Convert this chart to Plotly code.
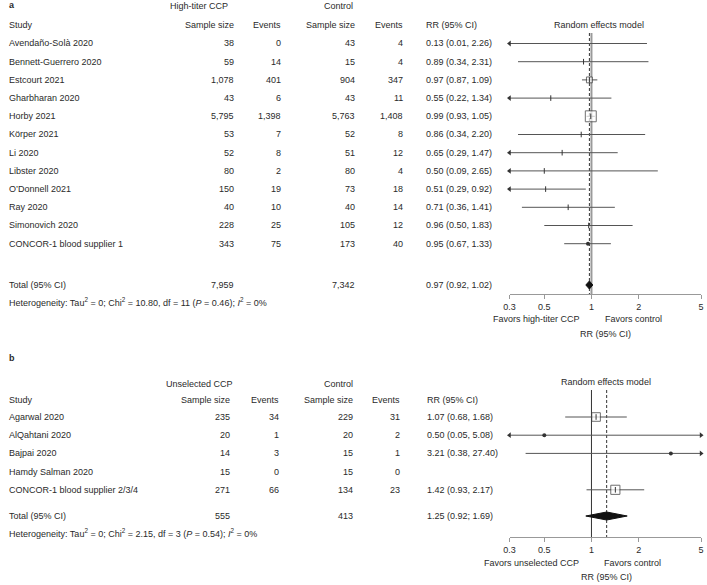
import math
import plotly.graph_objects as go

# ---------------- data: panel a ----------------
studies_a = ["Avendaño-Solà 2020", "Bennett-Guerrero 2020", "Estcourt 2021", "Gharbharan 2020",
             "Horby 2021", "Körper 2021", "Li 2020", "Libster 2020", "O’Donnell 2021",
             "Ray 2020", "Simonovich 2020", "CONCOR-1 blood supplier 1"]
trt_n_a = [38, 59, 1078, 43, 5795, 53, 52, 80, 150, 40, 228, 343]
trt_e_a = [0, 14, 401, 6, 1398, 7, 8, 2, 19, 10, 25, 75]
ctl_n_a = [43, 15, 904, 43, 5763, 52, 51, 80, 73, 40, 105, 173]
ctl_e_a = [4, 4, 347, 11, 1408, 8, 12, 4, 18, 14, 12, 40]
rr_a = [0.13, 0.89, 0.97, 0.55, 0.99, 0.86, 0.65, 0.50, 0.51, 0.71, 0.96, 0.95]
lo_a = [0.01, 0.34, 0.87, 0.22, 0.93, 0.34, 0.29, 0.09, 0.29, 0.36, 0.50, 0.67]
hi_a = [2.26, 2.31, 1.09, 1.34, 1.05, 2.20, 1.47, 2.65, 0.92, 1.41, 1.83, 1.33]
total_a = {"trt_n": 7959, "ctl_n": 7342, "rr": 0.97, "lo": 0.92, "hi": 1.02}
het_a = "Heterogeneity: Tau<sup>2</sup> = 0; Chi<sup>2</sup> = 10.80, df = 11 (<i>P</i> = 0.46); <i>I</i><sup>2</sup> = 0%"

# ---------------- data: panel b ----------------
studies_b = ["Agarwal 2020", "AlQahtani 2020", "Bajpai 2020", "Hamdy Salman 2020",
             "CONCOR-1 blood supplier 2/3/4"]
trt_n_b = [235, 20, 14, 15, 271]
trt_e_b = [34, 1, 3, 0, 66]
ctl_n_b = [229, 20, 15, 15, 134]
ctl_e_b = [31, 2, 1, 0, 23]
rr_b = [1.07, 0.50, 3.21, None, 1.42]
lo_b = [0.68, 0.05, 0.38, None, 0.93]
hi_b = [1.68, 5.08, 27.40, None, 2.17]
total_b = {"trt_n": 555, "ctl_n": 413, "rr": 1.25, "lo": 0.92, "hi": 1.69}
het_b = "Heterogeneity: Tau<sup>2</sup> = 0; Chi<sup>2</sup> = 2.15, df = 3 (<i>P</i> = 0.54); <i>I</i><sup>2</sup> = 0%"

tick_vals = [0.3, 0.5, 1, 2, 5]
tick_text = ["0.3", "0.5", "1", "2", "5"]

# ---------------- layout constants ----------------
W, H = 707, 585
XMIN, XMAX = 0.3, 5
FONT = "Liberation Sans, Arial, sans-serif"
FS = 9
TXT = "#2a2a2a"
LINE = "#555555"

fig = go.Figure()
annotations = []


def ann(text, x, y, anchor="left", size=FS, bold=False):
    if bold:
        text = f"<b>{text}</b>"
    annotations.append(dict(text=text, x=x / W, y=1 - y / H, xref="paper", yref="paper",
                            xanchor=anchor, yanchor="middle", align=anchor, showarrow=False,
                            borderpad=0, borderwidth=0,
                            font=dict(family=FONT, size=size, color=TXT)))


def fmt_ci(r, l, h, sep=","):
    return f"{r:.2f} ({l:.2f}{sep} {h:.2f})"


def panel(xa, ya, studies, tn, te, cn, ce, rr, lo, hi, total, het, cfg):
    y0, dy = cfg["row0"], cfg["dy"]
    rows = [y0 + i * dy for i in range(len(studies))]
    c = cfg["cols"]
    # headers
    ann(cfg["label"], 3, cfg["label_y"], bold=True, size=9)
    ann(cfg["group"], c["group"], cfg["h1"], "center")
    ann("Control", c["ctl_hdr"], cfg["h1"], "right")
    ann("Random effects model", c["rem"], cfg["rem_y"], "center")
    ann("Study", 3, cfg["h2"])
    ann("Sample size", c["tn"], cfg["h2"], "right")
    ann("Events", c["te"], cfg["h2"], "right")
    ann("Sample size", c["cn"], cfg["h2"], "right")
    ann("Events", c["ce"], cfg["h2"], "right")
    ann("RR (95% CI)", c["rr"], cfg["h2"])
    for i, s in enumerate(studies):
        y = rows[i]
        ann(s, 3, y)
        ann(f"{tn[i]:,}", c["tn"], y, "right")
        ann(f"{te[i]:,}", c["te"], y, "right")
        ann(f"{cn[i]:,}", c["cn"], y, "right")
        ann(f"{ce[i]:,}", c["ce"], y, "right")
        if rr[i] is not None:
            ann(fmt_ci(rr[i], lo[i], hi[i]), c["rr"], y)
    ty = cfg["total_y"]
    ann("Total (95% CI)", 3, ty)
    ann(f"{total['trt_n']:,}", c["tn"], ty, "right")
    ann(f"{total['ctl_n']:,}", c["cn"], ty, "right")
    ann(fmt_ci(total["rr"], total["lo"], total["hi"], cfg["total_sep"]), c["rr"], ty)
    ann(het, 3, cfg["het_y"])
    ann(cfg["fav_left"], cfg["fav_left_x"], cfg["fav_y"], "center")
    ann("Favors control", cfg["fav_right_x"], cfg["fav_y"], "center")
    ann("RR (95% CI)", cfg["rrlab_x"], cfg["rrlab_y"], "center")

    # vertical reference lines
    top, bottom = cfg["vtop"], cfg["axis_y"]
    fig.add_trace(go.Scatter(x=[1, 1], y=[top, bottom], mode="lines", xaxis=xa, yaxis=ya,
                             line=dict(color=cfg["ref_color"], width=cfg["ref_width"]),
                             hoverinfo="skip", showlegend=False))
    fig.add_trace(go.Scatter(x=[total["rr"], total["rr"]], y=[top, bottom], mode="lines",
                             xaxis=xa, yaxis=ya, line=dict(color="#333333", width=1, dash="3px,2px"),
                             hoverinfo="skip", showlegend=False))

    # CI lines
    xs, ys = [], []
    la_y, ra_y = [], []
    for i in range(len(studies)):
        if rr[i] is None:
            continue
        xs += [lo[i], hi[i], None]
        ys += [rows[i], rows[i], None]
        if lo[i] < XMIN:
            la_y.append(rows[i])
        if hi[i] > XMAX:
            ra_y.append(rows[i])
    fig.add_trace(go.Scatter(x=xs, y=ys, mode="lines", xaxis=xa, yaxis=ya,
                             line=dict(color=LINE, width=1), hoverinfo="skip", showlegend=False))
    if la_y:
        fig.add_trace(go.Scatter(x=[XMIN] * len(la_y), y=la_y, mode="markers", xaxis=xa, yaxis=ya,
                                 marker=dict(symbol="triangle-left", size=5, color="#333333"),
                                 cliponaxis=False, hoverinfo="skip", showlegend=False))
    if ra_y:
        fig.add_trace(go.Scatter(x=[XMAX] * len(ra_y), y=ra_y, mode="markers", xaxis=xa, yaxis=ya,
                                 marker=dict(symbol="triangle-right", size=5, color="#333333"),
                                 cliponaxis=False, hoverinfo="skip", showlegend=False))

    # weights (inverse variance from CI)
    w = []
    for i in range(len(studies)):
        if rr[i] is None:
            w.append(0)
        else:
            se = (math.log(hi[i]) - math.log(lo[i])) / 3.92
            w.append(1 / se ** 2)
    tw = sum(w)
    sq_x, sq_y, sq_s = [], [], []
    dot_x, dot_y = [], []
    tk_x, tk_y = [], []
    for i in range(len(studies)):
        if rr[i] is None:
            continue
        frac = w[i] / tw
        size = 12.8 * math.sqrt(frac)
        if size >= 5:
            sq_x.append(rr[i]); sq_y.append(rows[i]); sq_s.append(size)
            tk_x.append(rr[i]); tk_y.append(rows[i])
        elif frac > 0.015:
            dot_x.append(rr[i]); dot_y.append(rows[i])
        else:
            tk_x.append(rr[i]); tk_y.append(rows[i])
    if sq_x:
        fig.add_trace(go.Scatter(x=sq_x, y=sq_y, mode="markers", xaxis=xa, yaxis=ya,
                                 marker=dict(symbol="square", size=sq_s, color="white",
                                             line=dict(color="#333333", width=1)),
                                 hoverinfo="skip", showlegend=False))
    if dot_x:
        fig.add_trace(go.Scatter(x=dot_x, y=dot_y, mode="markers", xaxis=xa, yaxis=ya,
                                 marker=dict(symbol="circle", size=4, color="#333333"),
                                 hoverinfo="skip", showlegend=False))
    if tk_x:
        fig.add_trace(go.Scatter(x=tk_x, y=tk_y, mode="markers", xaxis=xa, yaxis=ya,
                                 marker=dict(symbol="line-ns", size=4,
                                             line=dict(color="#333333", width=1)),
                                 hoverinfo="skip", showlegend=False))

    # pooled diamond
    h = cfg["diamond_h"]
    fig.add_trace(go.Scatter(x=[total["lo"], total["rr"], total["hi"], total["rr"], total["lo"]],
                             y=[ty, ty - h, ty, ty + h, ty], mode="lines", fill="toself",
                             fillcolor="#111111", line=dict(color="#111111", width=1),
                             xaxis=xa, yaxis=ya, hoverinfo="skip", showlegend=False))


cfg_a = dict(label="a", label_y=5, group="High-titer CCP", h1=6, h2=25, rem_y=25,
             row0=43.5, dy=18.2, total_y=285, het_y=302, total_sep=",",
             cols=dict(group=195, ctl_hdr=351, tn=231, te=279, cn=354, ce=402, rr=425, rem=601),
             fav_left="Favors high-titer CCP", fav_left_x=537, fav_right_x=636, fav_y=319,
             rrlab_x=607, rrlab_y=334, vtop=33, axis_y=294, ref_color="#9a9a9a", ref_width=2,
             diamond_h=4)
cfg_b = dict(label="b", label_y=358, group="Unselected CCP", h1=384, h2=400, rem_y=382,
             row0=417, dy=18.2, total_y=516, het_y=533, total_sep=";",
             cols=dict(group=196, ctl_hdr=351, tn=227, te=277, cn=351, ce=399, rr=426, rem=608),
             fav_left="Favors unselected CCP", fav_left_x=532, fav_right_x=635, fav_y=563,
             rrlab_x=608, rrlab_y=577, vtop=390, axis_y=537, ref_color="#333333", ref_width=1,
             diamond_h=4)

panel("x", "y", studies_a, trt_n_a, trt_e_a, ctl_n_a, ctl_e_a, rr_a, lo_a, hi_a, total_a, het_a, cfg_a)
panel("x2", "y2", studies_b, trt_n_b, trt_e_b, ctl_n_b, ctl_e_b, rr_b, lo_b, hi_b, total_b, het_b, cfg_b)

xdom = [510 / W, 704 / W]
xaxis_common = dict(type="log", range=[math.log10(XMIN), math.log10(XMAX)], domain=xdom,
                    showgrid=False, zeroline=False, showline=True, linecolor="#999999",
                    linewidth=1, ticks="outside", ticklen=4, tickcolor="#999999",
                    tickvals=tick_vals, ticktext=tick_text,
                    tickfont=dict(family=FONT, size=FS, color=TXT), fixedrange=True)
top_a, bot_a = 28, cfg_a["axis_y"]
top_b, bot_b = 385, cfg_b["axis_y"]
yaxis_common = dict(showgrid=False, zeroline=False, showline=False, showticklabels=False,
                    ticks="", fixedrange=True)

fig.update_layout(
    width=W, height=H, margin=dict(l=0, r=0, t=0, b=0),
    paper_bgcolor="white", plot_bgcolor="white",
    xaxis=dict(anchor="y", **xaxis_common),
    xaxis2=dict(anchor="y2", **xaxis_common),
    yaxis=dict(domain=[1 - bot_a / H, 1 - top_a / H], range=[bot_a, top_a], **yaxis_common),
    yaxis2=dict(domain=[1 - bot_b / H, 1 - top_b / H], range=[bot_b, top_b], **yaxis_common),
    annotations=annotations,
    showlegend=False,
)

fig.write_html("out.html", config={"displayModeBar": False},
               post_script="document.body.style.margin='0';document.body.style.overflow='hidden';")
